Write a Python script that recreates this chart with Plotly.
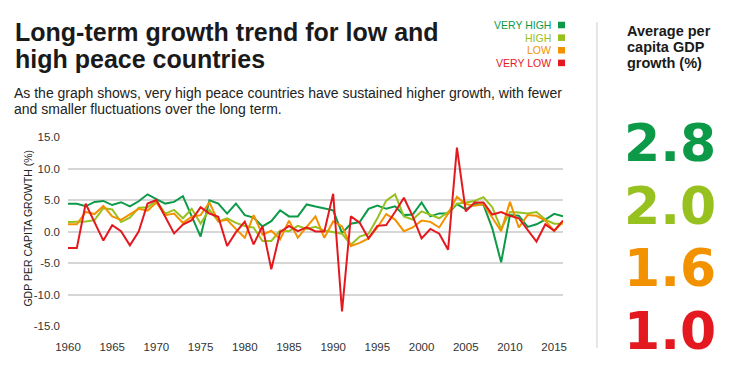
import plotly.graph_objects as go

years = list(range(1960, 2017))

very_high = [4.4, 4.4, 4.0, 4.7, 4.85, 4.2, 4.65, 4.0, 4.8, 5.9,
             5.15, 4.43, 4.7, 5.6, 2.4, -0.8, 4.95, 4.43, 2.85, 4.45,
             2.6, 2.2, 0.8, 1.65, 3.37, 2.4, 2.4, 4.3, 3.96, 3.7,
             3.37, -0.25, 1.24, 1.5, 3.6, 4.1, 3.6, 4.0, 2.6, 2.7,
             4.6, 2.4, 2.87, 2.87, 4.36, 3.5, 4.36, 4.26, 0.5, -4.9,
             2.6, 2.5, 0.74, 1.14, 1.9, 2.8, 2.4]
high = [1.5, 1.5, 1.6, 1.8, 3.7, 3.5, 1.5, 2.2, 3.76, 3.86,
        4.9, 2.85, 3.44, 2.1, 3.6, 1.26, 3.44, 1.6, 2.1, 1.36,
        0.87, 0.62, -1.5, -1.5, 0.15, 0.05, 0.9, 0.4, 0.74, 0.15,
        -0.1, -0.35, -2.1, -0.8, -0.35, 2.1, 4.9, 5.9, 2.4, 1.9,
        3.2, 2.7, 2.1, 3.1, 4.4, 4.6, 4.85, 5.45, 3.86, 0.4,
        3.1, 3.0, 2.87, 3.1, 1.9, 1.24, 1.24]
low = [1.14, 1.14, 3.1, 2.77, 4.06, 2.4, 1.83, 2.77, 3.6, 3.3,
       4.6, 2.6, 2.85, 1.36, 2.35, 2.6, 4.6, 1.6, 1.86, 0.37,
       -1.0, 2.6, -0.5, 0.12, -1.24, 1.73, -1.0, 0.74, 2.4, -1.0,
       1.6, 0.8, -2.3, -1.8, -1.1, 0.64, 2.77, 1.9, 0.05, 0.64,
       1.73, 1.53, 0.64, 2.87, 5.5, 4.36, 4.1, 4.36, 2.1, 0.05,
       4.7, 0.64, 2.6, 2.5, 1.73, 0.05, 1.53]
very_low = [-2.6, -2.6, 4.4, 1.5, -1.44, 1.0, 0.05, -2.2, 0.0, 4.45,
            5.0, 2.35, -0.3, 1.1, 1.8, 3.85, 2.85, 2.35, -2.3, -0.1,
            1.55, -2.05, 0.85, -6.0, -0.1, 0.9, 0.05, 0.65, 0.0, 0.0,
            6.0, -12.7, 2.4, 1.4, -1.1, 0.9, 1.04, 3.1, 5.35, 2.4,
            -1.1, 0.4, -0.35, -2.9, 13.3, 3.2, 4.6, 4.6, 2.7, 3.1,
            2.5, 2.1, 0.15, -1.6, 1.14, 0.15, 1.73]

series_names = ["VERY HIGH", "HIGH", "LOW", "VERY LOW"]
series_values = [very_high, high, low, very_low]
averages = ["2.8", "2.0", "1.6", "1.0"]
colors = ["#0d9a48", "#96c11f", "#f39200", "#e3191f"]

x_ticks = [1960, 1965, 1970, 1975, 1980, 1985, 1990, 1995, 2000, 2005, 2010, 2015]
y_ticks = [15, 10, 5, 0, -5, -10, -15]

title_lines = ["Long-term growth trend for low and", "high peace countries"]
subtitle_lines = ["As the graph shows, very high peace countries have sustained higher growth, with fewer",
                  "and smaller fluctuations over the long term."]
y_title = "GDP PER CAPITA GROWTH (%)"
side_lines = ["Average per", "capita GDP", "growth (%)"]

# the page body has an 8px margin, so the figure is drawn 8px in from the window corner
OFF = 8
W, H = 730 - OFF, 373 - 2 * OFF
PL, PR, PT, PB = 67.5, 563.0, 136.7, 338.7   # plot area in window pixels


def px(x):
    return (x - PL) / (PR - PL)


def py(y):
    return (PB - y) / (PB - PT)


fig = go.Figure()
for name, vals, col in zip(series_names, series_values, colors):
    fig.add_trace(go.Scatter(x=years, y=vals, mode="lines", name=name,
                             line=dict(color=col, width=2), showlegend=False))

annotations = []
shapes = []
font_main = "Liberation Sans, Arial, sans-serif"


def label(text, x, y, size, color="#1a1a1a", xanchor="left", bold=False, family=font_main, **kw):
    annotations.append(dict(xref="paper", yref="paper", x=px(x), y=py(y), xanchor=xanchor,
                            yanchor="middle", text=("<b>%s</b>" % text) if bold else text,
                            showarrow=False, font=dict(family=family, size=size, color=color), **kw))


for t, yy in zip(title_lines, [24, 53]):
    label(t, 12, yy, 25, bold=True)
for t, yy in zip(subtitle_lines, [90, 107]):
    label(t, 11, yy, 14, color="#222222")
label(y_title, 27, 234, 10.5, color="#222222", xanchor="center", textangle=-90)

leg_y = [17, 30.5, 44, 57.5]
for name, col, ly in zip(series_names, colors, leg_y):
    label(name, 553, ly, 10.5, color=col, xanchor="right")
    shapes.append(dict(type="rect", xref="paper", yref="paper", x0=px(558), x1=px(565),
                       y0=py(ly + 3.5), y1=py(ly - 3.5), fillcolor=col, line=dict(width=0)))

shapes.append(dict(type="line", xref="paper", yref="paper", x0=px(597), x1=px(597),
                   y0=py(14), y1=py(362), line=dict(color="#cccccc", width=1)))

for t, yy in zip(side_lines, [23, 41, 58]):
    label(t, 625, yy, 14.5, bold=True)

big_y = [143, 210, 277, 344]
for val, col, by in zip(averages, colors, big_y):
    label(val, 622, by, 52, color=col, bold=True, family="DejaVu Sans, sans-serif")

fig.update_layout(
    width=W, height=H,
    margin=dict(l=PL - OFF, r=730 - PR, t=PT - OFF, b=H - (PB - OFF), pad=0),
    paper_bgcolor="white", plot_bgcolor="white",
    annotations=annotations, shapes=shapes,
    xaxis=dict(range=[1960, 2016], tickvals=x_ticks, ticktext=[str(t) for t in x_ticks],
               showgrid=False, zeroline=False, showline=False, ticks="", ticklabelstandoff=12,
               tickfont=dict(family=font_main, size=11.5, color="#333333")),
    yaxis=dict(range=[-15, 15], tickvals=y_ticks, ticktext=["%.1f" % t for t in y_ticks],
               showgrid=True, gridcolor="#d6d6d6", gridwidth=1.5, zeroline=False, showline=False,
               ticks="", ticklabelstandoff=7,
               tickfont=dict(family=font_main, size=11.5, color="#333333")),
)

fig.write_html("out.html")
